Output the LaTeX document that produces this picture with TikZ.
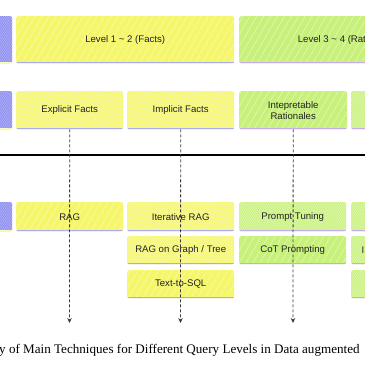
\documentclass[tikz,border=0pt]{standalone}
\usepackage{fontspec}
\setmainfont{Liberation Serif}
\newfontfamily\boxfont{Liberation Sans}
\usetikzlibrary{patterns.meta, arrows.meta}

\definecolor{factfill}{HTML}{F5F66A}
\definecolor{facthatch}{HTML}{FBFBB8}
\definecolor{ratfill}{HTML}{C8F17C}
\definecolor{rathatch}{HTML}{E4F9BC}
\definecolor{levfill}{HTML}{8C8DF0}
\definecolor{levhatch}{HTML}{B9BAF7}
\definecolor{edgeblue}{HTML}{A9AAF2}
\definecolor{edgepurple}{HTML}{C3ABF0}
\definecolor{textgray}{HTML}{222222}
\definecolor{arrowgray}{HTML}{3A3A3A}

\tikzset{
  qbox/.style={rectangle, rounded corners=2pt, anchor=north west, inner sep=1pt,
    align=center, text=textgray, font=\boxfont\fontsize{9.6}{11}\selectfont},
  % hatch: fill colour, hatch colour, hatch distance, bottom edge colour
  hatch/.style n args={4}{qbox, fill=#1, path picture={
    \fill[pattern={Lines[angle=60,distance=#3,line width=0.5pt]}, pattern color=#2]
      (path picture bounding box.south west) rectangle (path picture bounding box.north east);
    \draw[line width=3pt, #4]
      (path picture bounding box.south west) -- (path picture bounding box.south east);}},
  factbox/.style={hatch={factfill}{facthatch}{1.6pt}{edgeblue}},
  factsparse/.style={hatch={factfill}{facthatch}{6pt}{edgeblue}},
  ratbox/.style={hatch={ratfill}{rathatch}{1.6pt}{edgepurple}},
  ratsparse/.style={hatch={ratfill}{rathatch}{6pt}{edgepurple}},
  levbox/.style={hatch={levfill}{levhatch}{1.6pt}{facthatch}},
  flow/.style={-{Stealth[length=5pt,width=4.5pt]}, line width=0.8pt,
    dash pattern=on 3pt off 2pt, draw=arrowgray},
}

\begin{document}
\begin{tikzpicture}[x=1pt, y=-1pt]
  \useasboundingbox (0,0) rectangle (365,365);
  \clip (0,0) rectangle (365,365);

  % level headers
  \node[levbox, minimum width=32pt, minimum height=47pt] (lvl) at (-20,16) {};
  \node[factsparse, minimum width=218pt, minimum height=47pt] (lvl12) at (16,16) {Level 1 \textasciitilde{} 2 (Facts)};
  \node[ratsparse, minimum width=219pt, minimum height=47pt] (lvl34) at (239,16) {Level 3 \textasciitilde{} 4 (Rationales)};

  % query types
  \node[levbox, minimum width=32pt, minimum height=38pt] (qtype) at (-20,91) {};
  \node[factbox, minimum width=107pt, minimum height=38pt] (explicit) at (16,91) {Explicit Facts};
  \node[factbox, minimum width=107pt, minimum height=38pt] (implicit) at (127,91) {Implicit Facts};
  \node[ratsparse, minimum width=108pt, minimum height=38pt] (interp) at (239,91) {Intepretable\\Rationales};
  \node[ratbox, minimum width=107pt, minimum height=38pt] (hidden) at (351,91) {};

  % divider
  \draw[line width=1.4pt] (0,155) -- (365,155);

  % techniques
  \node[levbox, minimum width=32pt, minimum height=29pt] (tech) at (-20,202) {};
  \node[factsparse, minimum width=107pt, minimum height=29pt] (rag) at (16,202) {RAG};
  \node[factbox, minimum width=107pt, minimum height=29pt] (iterrag) at (127,202) {Iterative RAG};
  \node[ratbox, minimum width=107pt, minimum height=29pt] (prompt) at (239,202) {Prompt Tuning};
  \node[ratbox, minimum width=107pt, minimum height=29pt] (offline) at (351,202) {};

  \node[factbox, minimum width=107pt, minimum height=28pt] (graphrag) at (127,236) {RAG on Graph / Tree};
  \node[ratsparse, minimum width=107pt, minimum height=28pt] (cot) at (239,236) {CoT Prompting};
  \node[ratbox, minimum width=107pt, minimum height=28pt] (icl) at (351,236) {};
  \node[anchor=west, inner sep=0pt, text=textgray, font=\boxfont\fontsize{9.6}{11}\selectfont] (icltext) at (361.5,250) {I};

  \node[factsparse, minimum width=107pt, minimum height=28pt] (sql) at (127,270) {Text-to-SQL};
  \node[ratbox, minimum width=107pt, minimum height=28pt] (finetune) at (351,270) {};

  % dashed arrows down from the query types
  \coordinate (endA) at (69.5,323);
  \coordinate (endB) at (180.5,323);
  \coordinate (endC) at (293,323);
  \draw[flow] (explicit.south) -- (endA);
  \draw[flow] (implicit.south) -- (endB);
  \draw[flow] (interp.south) -- (endC);

  \node[anchor=west, inner sep=0pt, font=\fontsize{13.1}{15}\selectfont] (caption) at (-1,350)
    {y of Main Techniques for Different Query Levels in Data augmented};
\end{tikzpicture}
\end{document}
